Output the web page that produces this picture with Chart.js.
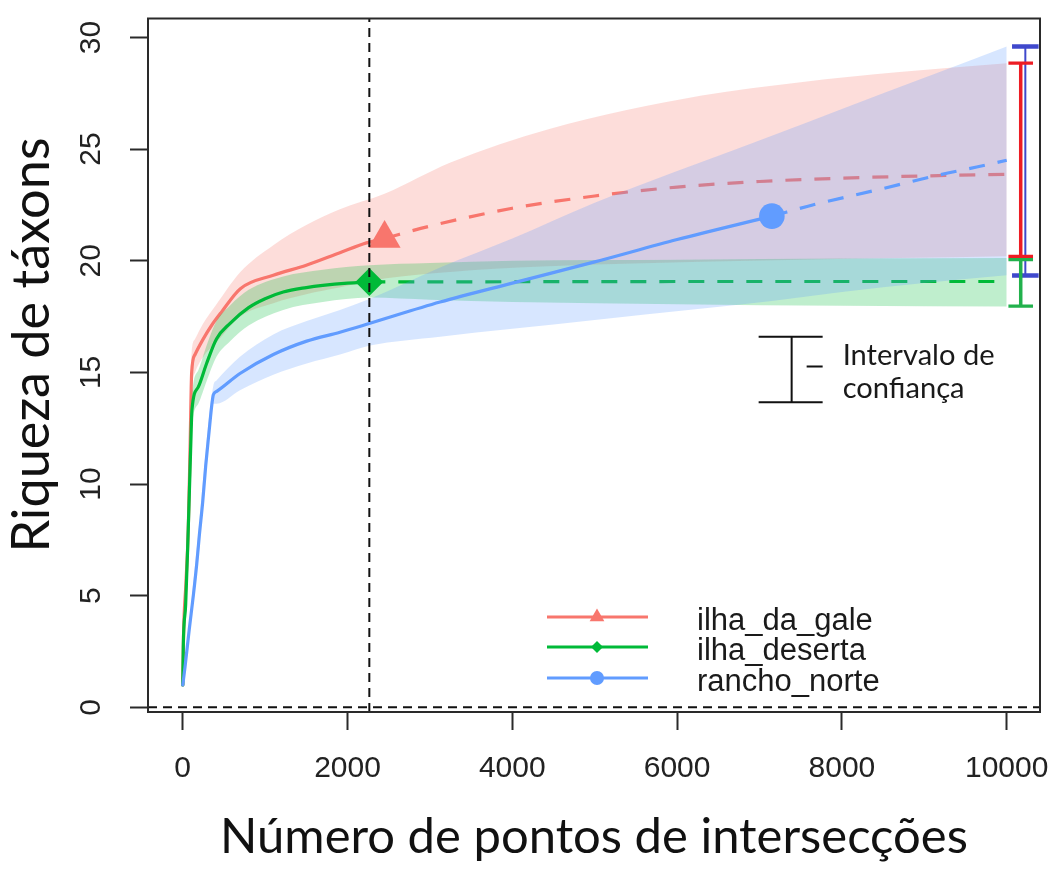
<!DOCTYPE html>
<html><head><meta charset="utf-8">
<script src="https://cdn.jsdelivr.net/npm/chart.js@4.4.1/dist/chart.umd.min.js"></script>
<style>html,body{margin:0;padding:0;background:#fff;}canvas{display:block;}</style>
</head><body>
<canvas id="c" width="1059" height="869"></canvas>
<script>
// ---------------- data ----------------
const xTicks = [0, 2000, 4000, 6000, 8000, 10000];
const yTicks = [0, 5, 10, 15, 20, 25, 30];
const seriesNames = ['ilha_da_gale', 'ilha_deserta', 'rancho_norte'];

// ilha_da_gale
const galeObsX = [1, 10, 40, 68, 89, 109, 150, 250, 350, 470, 700, 1100, 1500, 1900, 2230, 2450];
const galeObsY = [1, 3.2, 5.6, 8.0, 11.5, 15.0, 15.8, 16.5, 17.1, 17.7, 18.75, 19.35, 19.8, 20.35, 20.8, 21.0];
const galeExtX = [2450, 3000, 4000, 5000, 6000, 7000, 8000, 9000, 10000];
const galeExtY = [21.0, 21.55, 22.35, 22.9, 23.3, 23.55, 23.7, 23.8, 23.87];
const galeBandX  = [1, 40, 89, 109, 150, 250, 400, 700, 1100, 1500, 1900, 2450, 3250, 4450, 6300, 7500, 8700, 10000];
const galeBandHi = [1, 6.5, 13.5, 15.9, 16.5, 17.2, 18.0, 19.5, 20.7, 21.6, 22.3, 23.0, 24.4, 25.9, 27.4, 28.0, 28.45, 28.85];
const galeBandLo = [1, 4.8, 10.0, 14.0, 15.0, 15.7, 16.3, 17.5, 18.1, 18.5, 18.8, 19.2, 19.5, 19.75, 19.95, 20.05, 20.12, 20.2];
const galeRef = [2450, 21.0];

// ilha_deserta
const desObsX = [1, 7, 36, 60, 80, 100, 112, 190, 290, 410, 575, 800, 1000, 1220, 1500, 1700, 2000, 2265];
const desObsY = [1, 2.7, 4.6, 7.1, 9.5, 12, 13.3, 14.35, 15.4, 16.5, 17.2, 17.9, 18.3, 18.6, 18.8, 18.9, 19.0, 19.05];
const desExtX = [2265, 4000, 6000, 8000, 10000];
const desExtY = [19.05, 19.06, 19.07, 19.07, 19.07];
const desBandX  = [1, 60, 112, 190, 290, 410, 575, 800, 1220, 1700, 2265, 3000, 4000, 6000, 8000, 10000];
const desBandHi = [1, 7.5, 13.9, 15.1, 16.2, 17.3, 18.0, 18.7, 19.3, 19.6, 19.8, 19.9, 20.0, 20.05, 20.1, 20.12];
const desBandLo = [1, 6.5, 12.5, 13.6, 14.6, 15.7, 16.4, 17.1, 17.8, 18.15, 18.35, 18.25, 18.15, 18.05, 17.98, 17.95];
const desRef = [2265, 19.05];

// rancho_norte
const rnObsX = [1, 28, 80, 129, 170, 202, 243, 279, 319, 352, 372, 413, 695, 1100, 1505, 1909, 2273, 3123, 4000, 5000, 6000, 7150];
const rnObsY = [1, 1.8, 3.5, 5.0, 6.4, 7.7, 9.2, 10.8, 12.3, 13.5, 14.0, 14.15, 14.95, 15.8, 16.4, 16.8, 17.2, 18.15, 19.0, 19.95, 20.95, 22.0];
const rnExtX = [7150, 7700, 8460, 9190, 9636, 10000];
const rnExtY = [22.0, 22.55, 23.2, 23.85, 24.2, 24.5];
const rnBandX  = [1, 80, 202, 372, 413, 695, 1100, 1505, 1909, 2273, 3123, 4000, 5000, 6280, 7150, 8000, 9000, 10000];
const rnBandHi = [1, 3.8, 8.3, 14.4, 14.65, 15.7, 16.7, 17.3, 17.8, 18.3, 19.7, 21.0, 22.6, 24.4, 25.6, 26.8, 28.2, 29.6];
const rnBandLo = [1, 3.2, 7.1, 13.6, 13.6, 14.2, 14.9, 15.4, 15.8, 16.2, 16.6, 16.95, 17.35, 17.85, 18.2, 18.6, 19.0, 19.35];
const rnRef = [7150, 22.0];

// reference lines and added confidence-interval bars (red, green, blue)
const refLineX = 2265;
const refLineY = 0;
const ciBarX  = [10170, 10170, 10226];
const ciBarLo = [20.2, 17.97, 19.34];
const ciBarHi = [28.85, 20.05, 29.6];

// ---------------- styles / layout ----------------
const lineColors = ['#F8766D', '#00BA38', '#619CFF'];
const bandColors = ['rgba(248,118,109,0.25)', 'rgba(0,186,56,0.25)', 'rgba(97,156,255,0.25)'];
const ciColors = ['#ED1C24', '#22B14C', '#3F48CC'];
const markerStyles = ['triangle', 'rectRot', 'circle'];
const markerRadius = [18.5, 14, 12.8];
const X_MIN = -421, X_MAX = 10404, Y_MIN = -0.21, Y_MAX = 30.85;

const mctx = document.createElement('canvas').getContext('2d');
function fitSize(text, family, target) {
  mctx.font = '100px ' + family;
  return 100 * target / mctx.measureText(text).width;
}
const TITLE_FAMILY = 'Lato, "Open Sans", sans-serif';
const xTitleText = 'Número de pontos de intersecções';
const yTitleText = 'Riqueza de táxons';
const xTitleSize = fitSize(xTitleText, TITLE_FAMILY, 748);
const yTitleSize = fitSize(yTitleText, TITLE_FAMILY, 415);
const keySize = fitSize('Intervalo de', TITLE_FAMILY, 152);

function pts(xs, ys) { return xs.map((x, i) => ({ x: x, y: ys[i] })); }

const obsX = [galeObsX, desObsX, rnObsX], obsY = [galeObsY, desObsY, rnObsY];
const extX = [galeExtX, desExtX, rnExtX], extY = [galeExtY, desExtY, rnExtY];
const bandX = [galeBandX, desBandX, rnBandX], bandHi = [galeBandHi, desBandHi, rnBandHi], bandLo = [galeBandLo, desBandLo, rnBandLo];
const refPts = [galeRef, desRef, rnRef];

// drawing order: group by group (red, green, blue); inside a group ribbon, lines, marker
const datasets = [];
for (let i = 0; i < 3; i++) {
  const base = 40 - i * 5;
  datasets.push({ label: seriesNames[i] + ' IC sup', data: pts(bandX[i], bandHi[i]), borderWidth: 0, pointRadius: 0,
    fill: '+1', backgroundColor: bandColors[i], borderColor: 'rgba(0,0,0,0)', cubicInterpolationMode: 'monotone', order: base });
  datasets.push({ label: seriesNames[i] + ' IC inf', data: pts(bandX[i], bandLo[i]), borderWidth: 0, pointRadius: 0,
    fill: false, borderColor: 'rgba(0,0,0,0)', cubicInterpolationMode: 'monotone', order: base });
  datasets.push({ label: seriesNames[i], data: pts(obsX[i], obsY[i]), borderColor: lineColors[i], borderWidth: 3.2,
    pointRadius: 0, fill: false, cubicInterpolationMode: 'monotone', borderCapStyle: 'round', borderJoinStyle: 'round', order: base - 1 });
  datasets.push({ label: seriesNames[i] + ' extrap.', data: pts(extX[i], extY[i]), borderColor: lineColors[i], borderWidth: 3.2,
    borderDash: [16, 13], pointRadius: 0, fill: false, cubicInterpolationMode: 'monotone', order: base - 1 });
  datasets.push({ label: seriesNames[i] + ' ref', data: [{ x: refPts[i][0], y: refPts[i][1] }], showLine: false,
    pointStyle: markerStyles[i], pointRadius: markerRadius[i], pointBackgroundColor: lineColors[i], pointBorderWidth: 0,
    pointBorderColor: lineColors[i], order: base - 2 });
  datasets.push({ label: seriesNames[i] + ' IC barra', data: [{ x: ciBarX[i], y: ciBarLo[i] }, { x: ciBarX[i], y: ciBarHi[i] }],
    borderColor: ciColors[i], borderWidth: i === 2 ? 2 : 3.5, pointStyle: 'line', pointRadius: i === 2 ? 13.3 : 12.3,
    pointBorderColor: ciColors[i], pointBorderWidth: i === 2 ? 4.5 : 3.2, fill: false, order: 5 });
}
datasets.push({ label: 'ref x', data: [{ x: refLineX, y: Y_MIN }, { x: refLineX, y: Y_MAX }], borderColor: '#111', borderWidth: 2,
  borderDash: [9, 6], pointRadius: 0, fill: false, order: 1 });
datasets.push({ label: 'ref y', data: [{ x: X_MIN, y: refLineY }, { x: X_MAX, y: refLineY }], borderColor: '#111', borderWidth: 2,
  borderDash: [9, 6], pointRadius: 0, fill: false, order: 1 });

// ---------------- plugins ----------------
const framePlugin = {
  id: 'frame',
  afterDatasetsDraw(chart) {
    const { ctx, chartArea: a } = chart;
    ctx.save();
    ctx.strokeStyle = '#2a2a2a';
    ctx.lineWidth = 2;
    ctx.strokeRect(a.left, a.top, a.right - a.left, a.bottom - a.top);
    ctx.restore();
  }
};

const yTitlePlugin = {
  id: 'yTitle',
  afterDraw(chart) {
    const ctx = chart.ctx;
    ctx.save();
    ctx.translate(yTitleSize / 2 + 6, 345);
    ctx.rotate(-Math.PI / 2);
    ctx.fillStyle = '#111';
    ctx.font = yTitleSize.toFixed(2) + 'px ' + TITLE_FAMILY;
    ctx.textAlign = 'center';
    ctx.textBaseline = 'middle';
    ctx.fillText(yTitleText, 0, 0);
    ctx.restore();
  }
};

const legendPlugin = {
  id: 'customLegend',
  afterDraw(chart) {
    const ctx = chart.ctx;
    const lx0 = 547, lx1 = 648, mx = 597, tx = 697;
    const rows = [617, 647, 678];
    const legMarker = [8.5, 6, 7];
    ctx.save();
    for (let i = 0; i < 3; i++) {
      ctx.strokeStyle = lineColors[i];
      ctx.lineWidth = 3.2;
      ctx.beginPath(); ctx.moveTo(lx0, rows[i]); ctx.lineTo(lx1, rows[i]); ctx.stroke();
      ctx.fillStyle = lineColors[i];
      Chart.helpers.drawPoint(ctx, { pointStyle: markerStyles[i], radius: legMarker[i], rotation: 0, borderWidth: 0 }, mx, rows[i]);
      ctx.fillStyle = '#1a1a1a';
      ctx.font = '31px "Liberation Sans", Arial, sans-serif';
      ctx.textBaseline = 'alphabetic';
      ctx.textAlign = 'left';
      ctx.fillText(seriesNames[i], tx, rows[i] + 12.5);
    }
    // confidence interval key
    const xs = chart.scales.x, ys = chart.scales.y;
    const cx = xs.getPixelForValue(7390);
    const yTop = ys.getPixelForValue(16.6), yBot = ys.getPixelForValue(13.66), yMid = ys.getPixelForValue(15.26);
    ctx.strokeStyle = '#111';
    ctx.lineWidth = 2;
    ctx.beginPath();
    ctx.moveTo(cx - 33, yTop); ctx.lineTo(cx + 31, yTop);
    ctx.moveTo(cx - 33, yBot); ctx.lineTo(cx + 31, yBot);
    ctx.moveTo(cx, yTop); ctx.lineTo(cx, yBot);
    ctx.moveTo(cx + 15, yMid); ctx.lineTo(cx + 31, yMid);
    ctx.stroke();
    ctx.fillStyle = '#1a1a1a';
    ctx.font = keySize.toFixed(2) + 'px ' + TITLE_FAMILY;
    ctx.fillText('Intervalo de', cx + 51, yMid - 2);
    ctx.fillText('confiança', cx + 51, yMid + 31);
    ctx.restore();
  }
};

function noPad(s) { s.paddingLeft = 0; s.paddingRight = 0; s.paddingTop = 0; s.paddingBottom = 0; }

// ---------------- chart ----------------
const tickFont = { family: '"Liberation Sans", Arial, sans-serif', size: 30 };
new Chart(document.getElementById('c'), {
  type: 'line',
  data: { datasets: datasets },
  options: {
    responsive: false,
    animation: false,
    devicePixelRatio: 1,
    events: [],
    layout: { padding: { top: 15, right: 19, bottom: 0, left: 0 } },
    plugins: { legend: { display: false }, tooltip: { enabled: false } },
    scales: {
      x: {
        type: 'linear', min: X_MIN, max: X_MAX,
        afterBuildTicks: s => { s.ticks = xTicks.map(v => ({ value: v })); },
        afterFit: s => { s.height = 157; noPad(s); },
        grid: { drawOnChartArea: false, drawTicks: true, tickLength: 18, tickWidth: 2, tickColor: '#2a2a2a' },
        border: { display: false },
        ticks: { autoSkip: false, maxRotation: 0, minRotation: 0, padding: 21, font: tickFont, color: '#222', callback: v => String(v) },
        title: { display: true, text: xTitleText, color: '#111', font: { family: TITLE_FAMILY, size: xTitleSize, lineHeight: 1 }, padding: { top: 0, bottom: 7 } }
      },
      y: {
        type: 'linear', min: Y_MIN, max: Y_MAX,
        afterBuildTicks: s => { s.ticks = yTicks.map(v => ({ value: v })); },
        afterFit: s => { s.width = 148; noPad(s); },
        grid: { drawOnChartArea: false, drawTicks: true, tickLength: 18, tickWidth: 2, tickColor: '#2a2a2a' },
        border: { display: false },
        ticks: { autoSkip: false, minRotation: 90, maxRotation: 90, crossAlign: 'center', padding: 22, font: tickFont, color: '#222', callback: v => String(v) },
        title: { display: false, text: yTitleText }
      }
    }
  },
  plugins: [framePlugin, yTitlePlugin, legendPlugin]
});
</script>
</body></html>
